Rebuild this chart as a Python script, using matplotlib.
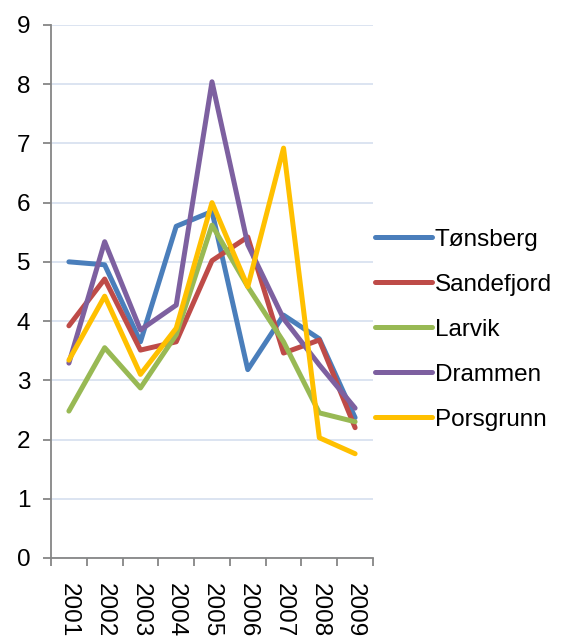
import matplotlib
matplotlib.use('Agg')
import matplotlib.pyplot as plt
import numpy as np

plt.rcParams['font.family'] = ['Liberation Sans', 'DejaVu Sans']

years = ['2001', '2002', '2003', '2004', '2005', '2006', '2007', '2008', '2009']
tonsberg = [5.0, 4.95, 3.65, 5.6, 5.85, 3.18, 4.1, 3.7, 2.37]
sandefjord = [3.92, 4.71, 3.51, 3.65, 5.02, 5.42, 3.46, 3.68, 2.2]
larvik = [2.48, 3.55, 2.87, 3.77, 5.62, 4.58, 3.65, 2.45, 2.3]
drammen = [3.29, 5.34, 3.85, 4.27, 8.04, 5.29, 4.04, 3.26, 2.53]
porsgrunn = [3.34, 4.42, 3.1, 3.88, 6.0, 4.58, 6.92, 2.03, 1.76]

series = [
    ('Tønsberg', tonsberg, '#4A7EBB'),
    ('Sandefjord', sandefjord, '#BE4B48'),
    ('Larvik', larvik, '#98B954'),
    ('Drammen', drammen, '#7D60A0'),
    ('Porsgrunn', porsgrunn, '#FFC000'),
]

FS = 17.5

fig = plt.figure(figsize=(5.63, 6.39), dpi=100)
ax = fig.add_axes([0.0906, 0.1268, 0.5719, 0.8342])

x = np.arange(len(years))
for name, vals, col in series:
    ax.plot(x, vals, color=col, lw=3.6, label=name,
            solid_capstyle='round', solid_joinstyle='round')

ax.set_xlim(-0.5, len(years) - 0.5)
ax.set_ylim(0, 9)
ax.set_yticks(range(10))
ax.grid(axis='y', color='#D9E2F0', lw=1.3)
ax.set_axisbelow(True)

ax.set_xticks(np.arange(-0.5, len(years), 1.0))
ax.set_xticklabels([])
ax.set_xticks(x, minor=True)
ax.set_xticklabels(years, minor=True, rotation=270, fontsize=FS, va='top', ha='center')
ax.tick_params(axis='x', which='minor', length=0, pad=18)
ax.tick_params(axis='x', which='major', length=6, width=1.3, color='#868686', direction='out')
ax.tick_params(axis='y', length=6, width=1.3, color='#868686', direction='out', labelsize=FS, pad=9)

for s in ['top', 'right']:
    ax.spines[s].set_visible(False)
for s in ['left', 'bottom']:
    ax.spines[s].set_color('#868686')
    ax.spines[s].set_linewidth(1.3)

fig.legend(loc='center left', bbox_to_anchor=(0.627, 0.484), frameon=False,
           fontsize=FS, handlelength=2.35, handletextpad=0.12, labelspacing=0.95)

fig.savefig('out.png', dpi=100)
